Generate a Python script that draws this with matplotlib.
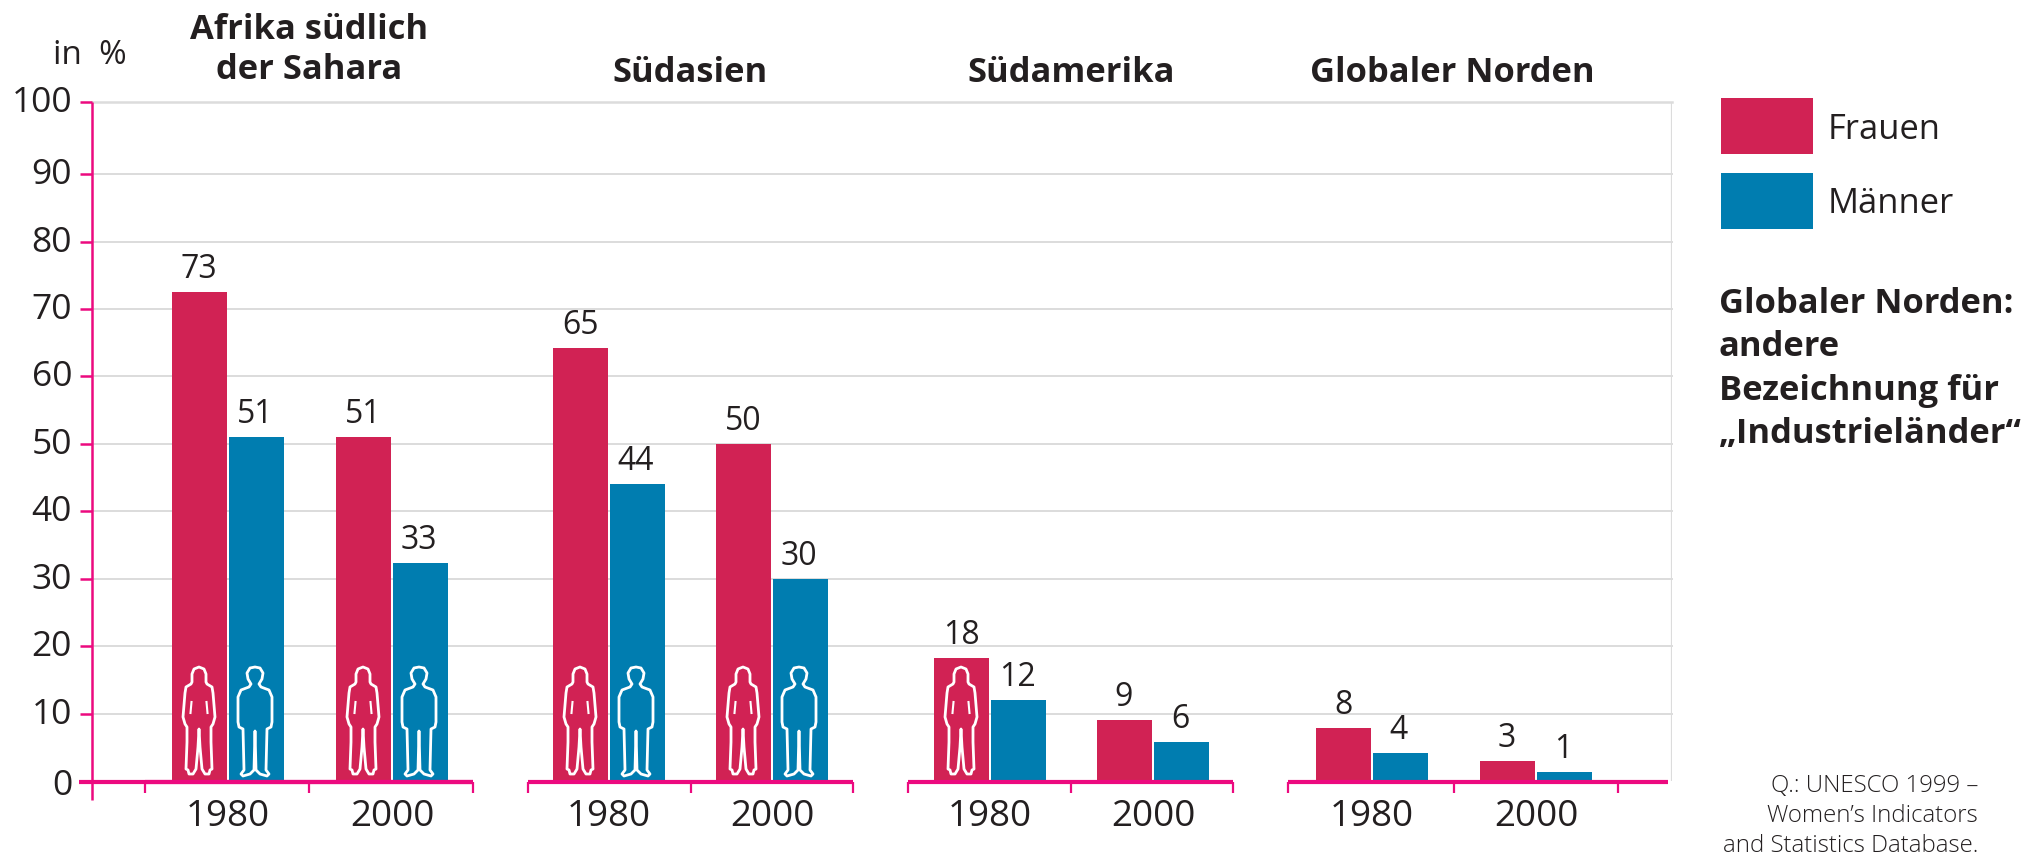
import matplotlib
matplotlib.use("Agg")
import matplotlib.pyplot as plt
from matplotlib.patches import Polygon, Rectangle

regions = ["Afrika südlich\nder Sahara", "Südasien", "Südamerika", "Globaler Norden"]
years = ["1980", "2000"]
frauen_labels = [73, 51, 65, 50, 18, 9, 8, 3]
maenner_labels = [51, 33, 44, 30, 12, 6, 4, 1]
frauen_heights = [72.5, 51, 64.2, 50, 18.2, 9, 7.9, 3]
maenner_heights = [51, 32.3, 44, 29.9, 12, 5.8, 4.2, 1.3]
y_ticks = [0, 10, 20, 30, 40, 50, 60, 70, 80, 90, 100]
series_names = ["Frauen", "Männer"]
source = "Q.: UNESCO 1999 –\nWomen’s Indicators\nand Statistics Database."
note = "Globaler Norden:\nandere\nBezeichnung für\n„Industrieländer“"
unit = "in  %"

RED, BLUE, PINK, GRID, INK = "#d12254", "#007db0", "#ec0a7f", "#dcdcdc", "#231f20"
W, H = 2034, 857
FONT = "Open Sans"
plt.rcParams["font.family"] = FONT

fig = plt.figure(figsize=(W / 100, H / 100), dpi=100, facecolor="white")
X0, X1, Y0, Y100 = 92, 1672, 781, 102
ax = fig.add_axes([X0 / W, (H - Y0) / H, (X1 - X0) / W, (Y0 - Y100) / H])
ax.set_xlim(X0, X1)
ax.set_ylim(0, 100.7)
ax.patch.set_alpha(0)
for s in ax.spines.values():
    s.set_visible(False)
ax.tick_params(left=False, bottom=False, labelleft=False, labelbottom=False)

ov = fig.add_axes([0, 0, 1, 1], zorder=5)
ov.set_xlim(0, W)
ov.set_ylim(H, 0)
ov.axis("off")

def ypix(v):
    return Y0 - v * (Y0 - Y100) / 100.7

# top gridline sits slightly above the regular spacing in the reference
grid_vals = [(100.7 if v == 100 else v) for v in y_ticks]
for v, t in zip(grid_vals, y_ticks):
    if v > 0:
        ax.axhline(v, color=GRID, lw=1.8 if v > 100 else 1.4, zorder=1, clip_on=False)
    py = ypix(v)
    ov.plot([80, X0], [py, py], color=PINK, lw=1.8, solid_capstyle="butt")
    ov.text(72, py + (5 if t == 0 else 1), str(t), ha="right", va="center", fontsize=25.5, color=INK)
ax.plot([X1, X1], [0, 100.7], color=GRID, lw=1.6, zorder=1)

bar_w = 55
centers = [228, 392, 609, 772, 990, 1153, 1372, 1536]
ax.bar([c - 28.5 for c in centers], frauen_heights, bar_w, color=RED, zorder=3)
ax.bar([c + 28 for c in centers], maenner_heights, bar_w, color=BLUE, zorder=3)

for c, hf, hm, lf, lm in zip(centers, frauen_heights, maenner_heights, frauen_labels, maenner_labels):
    ov.text(c - 29, ypix(hf) - 6, str(lf), ha="center", va="bottom", fontsize=23, color=INK)
    ov.text(c + 27, ypix(hm) - 6, str(lm), ha="center", va="bottom", fontsize=23, color=INK)
for i, c in enumerate(centers):
    ov.text(c, 817, years[i % 2], ha="center", va="center", fontsize=26.5, color=INK)

# axis
ov.plot([X0, X0], [102, 800], color=PINK, lw=1.8, solid_capstyle="butt")
ov.plot([79, 473], [782, 782], color=PINK, lw=3, solid_capstyle="butt")
spans = [(145, 309, 473), (528, 691, 853), (908, 1071, 1233), (1288, 1454, 1618)]
ends = [473, 853, 1233, 1668]
for sp, e in zip(spans, ends):
    ov.plot([sp[0], e], [782, 782], color=PINK, lw=3, solid_capstyle="butt")
    for t in sp:
        ov.plot([t, t], [782, 793], color=PINK, lw=1.6, solid_capstyle="butt")

# titles
title_x = [309, 690, 1071, 1452]
for i, (r, x) in enumerate(zip(regions, title_x)):
    y = 50 if i == 0 else 73
    ov.text(x, y, r, ha="center", va="center", fontsize=24.8, fontweight="bold", color=INK, linespacing=1.22)
ov.text(53, 55, unit, ha="left", va="center", fontsize=24, color=INK)

# legend
ov.add_patch(Rectangle((1721, 98), 92, 56, fc=RED, ec="none"))
ov.add_patch(Rectangle((1721, 173), 92, 56, fc=BLUE, ec="none"))
ov.text(1828, 130, series_names[0], ha="left", va="center", fontsize=24.8, color=INK)
ov.text(1828, 204, series_names[1], ha="left", va="center", fontsize=24.8, color=INK)
ov.text(1719, 369, note, ha="left", va="center", fontsize=24.8, fontweight="bold", color=INK, linespacing=1.35)
ov.text(1978, 816, source, ha="right", va="center", fontsize=17.3, color=INK, linespacing=1.32, fontweight="light")

# pictograms
female = [(0,0),(5,2),(7,7),(7,15),(8,17),(13,20),(14,26),(16,50),(14,57),(12,60),(12,75),(13,102),(11,103),(10,107),(6,107),(3,102),(1,80),(0,62),
          (-1,80),(-3,102),(-6,107),(-10,107),(-11,103),(-13,102),(-12,75),(-12,60),(-14,57),(-16,50),(-14,26),(-13,20),(-8,17),(-7,15),(-7,7),(-5,2)]
male = [(0,0),(5,1),(8,6),(7,12),(4,17),(6,20),(14,23),(17,30),(17,55),(16,60),(12,62),(11,103),(14,107),(12,109),(5,107),(1,103),(0,64),
        (-1,103),(-5,107),(-12,109),(-14,107),(-11,103),(-12,62),(-16,60),(-17,55),(-17,30),(-14,23),(-6,20),(-4,17),(-7,12),(-8,6),(-5,1)]
def icon(pts, cx, top=667):
    ov.add_patch(Polygon([(cx + x, top + y) for x, y in pts], closed=True, fc="none", ec="white", lw=2.0, joinstyle="round"))
def female_icon(cf):
    icon(female, cf)
    for s in (-1, 1):
        ov.plot([cf + s * 7.5, cf + s * 8.5], [702, 713], color="white", lw=1.5)
for c in centers[:4]:
    female_icon(c - 29)
    icon(male, c + 27)
female_icon(centers[4] - 29)

fig.savefig("out.png", dpi=100)
